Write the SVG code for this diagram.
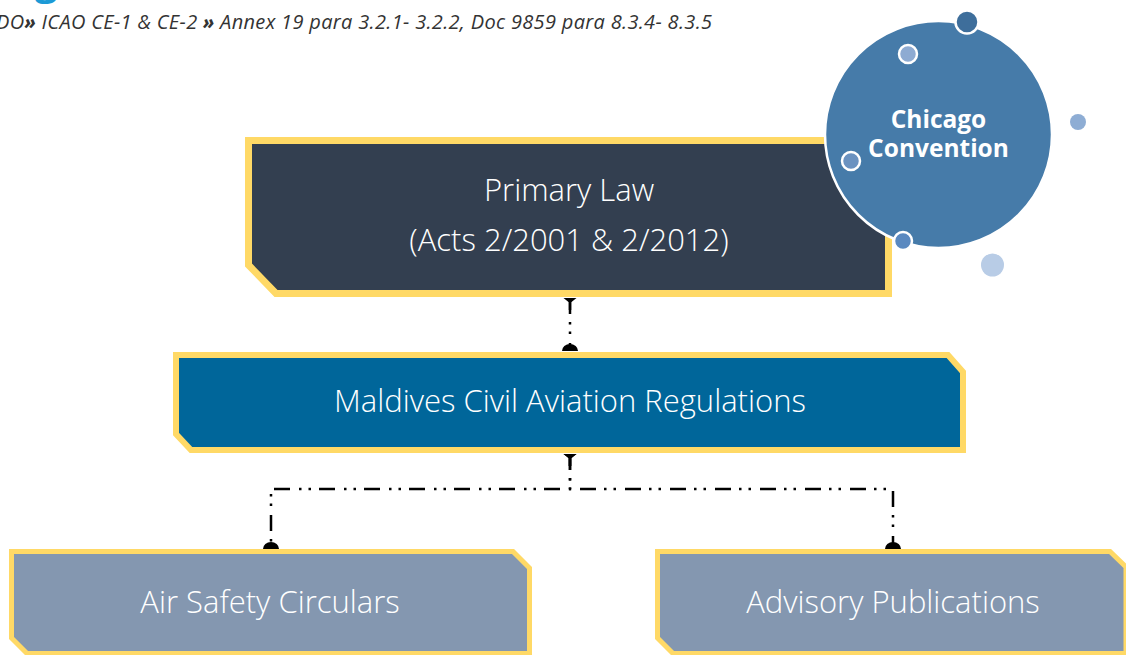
<svg xmlns="http://www.w3.org/2000/svg" width="1126" height="655" viewBox="0 0 1126 655">
  <style>
    .lbl { font-family: "Open Sans", "Liberation Sans", sans-serif; fill: #ffffff; text-anchor: middle; }
    .thin { font-weight: 300; font-size: 31px; }
    .box { stroke: #ffd966; stroke-linejoin: miter; }
    .conn { fill: none; stroke: #000000; stroke-width: 2.5; stroke-dasharray: 16 8 2.5 7 2.5 9; }
    .ring { stroke: #ffffff; stroke-width: 2.5; }
  </style>
  <defs>
    <!-- tapered tee at the source end -->
    <marker id="tee" markerUnits="userSpaceOnUse" orient="auto" refX="0" refY="0" markerWidth="20" markerHeight="20" overflow="visible">
      <polygon points="0,-6.5 0,6.5 4,1.5 4,-1.5" fill="#000000"/>
      <line x1="0" y1="0" x2="12" y2="0" stroke="#000000" stroke-width="2.5"/>
    </marker>
    <!-- half-dome at the target end -->
    <marker id="dome" markerUnits="userSpaceOnUse" orient="auto" refX="0" refY="0" markerWidth="20" markerHeight="20" overflow="visible">
      <path d="M0,-8 A7,8 0 0 0 0,8 Z" fill="#000000"/>
    </marker>
  </defs>

  <rect width="1126" height="655" fill="#ffffff"/>

  <!-- heading (mostly above the top edge) and reference line -->
  <text x="35" y="-5" font-family="'Open Sans', 'Liberation Sans', sans-serif" font-size="40" font-weight="bold" fill="#1c9ad6">g</text>
  <text x="-4" y="29" textLength="716" lengthAdjust="spacing" font-family="'Open Sans', 'Liberation Sans', sans-serif" font-size="20" font-style="italic" fill="#333333">DO<tspan font-weight="bold">»</tspan> ICAO CE-1 &amp; CE-2 <tspan font-weight="bold">»</tspan> Annex 19 para 3.2.1- 3.2.2, Doc 9859 para 8.3.4- 8.3.5</text>

  <!-- connectors -->
  <g id="connectors">
    <path class="conn" d="M570,298 V351" marker-start="url(#tee)" marker-end="url(#dome)"/>
    <path class="conn" d="M570,454 V489 H271 V549" marker-start="url(#tee)" marker-end="url(#dome)"/>
    <path class="conn" d="M570,454 V489 H893 V549" marker-start="url(#tee)" marker-end="url(#dome)"/>
  </g>

  <g id="primary-law">
    <polygon class="box" stroke-width="7" fill="#333f50" points="248.5,140.5 888.5,140.5 888.5,293.5 276,293.5 248.5,265"/>
    <text class="lbl thin" x="569" y="201">Primary Law</text>
    <text class="lbl thin" x="569" y="251">(Acts 2/2001 &amp; 2/2012)</text>
  </g>

  <g id="mcar">
    <polygon class="box" stroke-width="6" fill="#00669a" points="176,355 948,355 963,372 963,450 191,450 176,434"/>
    <text class="lbl thin" x="570" y="412">Maldives Civil Aviation Regulations</text>
  </g>

  <g id="air-safety-circulars">
    <polygon class="box" stroke-width="5" fill="#8497b0" points="11.5,551.5 513,551.5 529.5,568 529.5,653.5 27,653.5 11.5,638"/>
    <text class="lbl thin" x="270" y="613">Air Safety Circulars</text>
  </g>

  <g id="advisory-publications">
    <polygon class="box" stroke-width="5" fill="#8497b0" points="657.5,551.5 1110,551.5 1126,567 1126,653.5 673,653.5 657.5,638"/>
    <text class="lbl thin" x="893" y="613">Advisory Publications</text>
  </g>

  <g id="chicago-convention">
    <circle class="ring" cx="938.5" cy="134.5" r="113.5" fill="#467ba9"/>
    <circle class="ring" cx="967" cy="22" r="11.5" fill="#3e6e9b"/>
    <circle class="ring" cx="908" cy="54" r="9" fill="#8eabd2"/>
    <circle class="ring" cx="851" cy="161" r="9" fill="#6a92c0"/>
    <circle class="ring" cx="903" cy="241" r="9" fill="#5a89c0"/>
    <circle cx="1078" cy="122" r="8" fill="#8eadd4"/>
    <circle cx="992.5" cy="265" r="11.5" fill="#b8cce6"/>
    <text class="lbl" x="938.5" y="128" font-size="24.5" font-weight="bold">Chicago</text>
    <text class="lbl" x="938.5" y="157" font-size="24.5" font-weight="bold">Convention</text>
  </g>
</svg>
